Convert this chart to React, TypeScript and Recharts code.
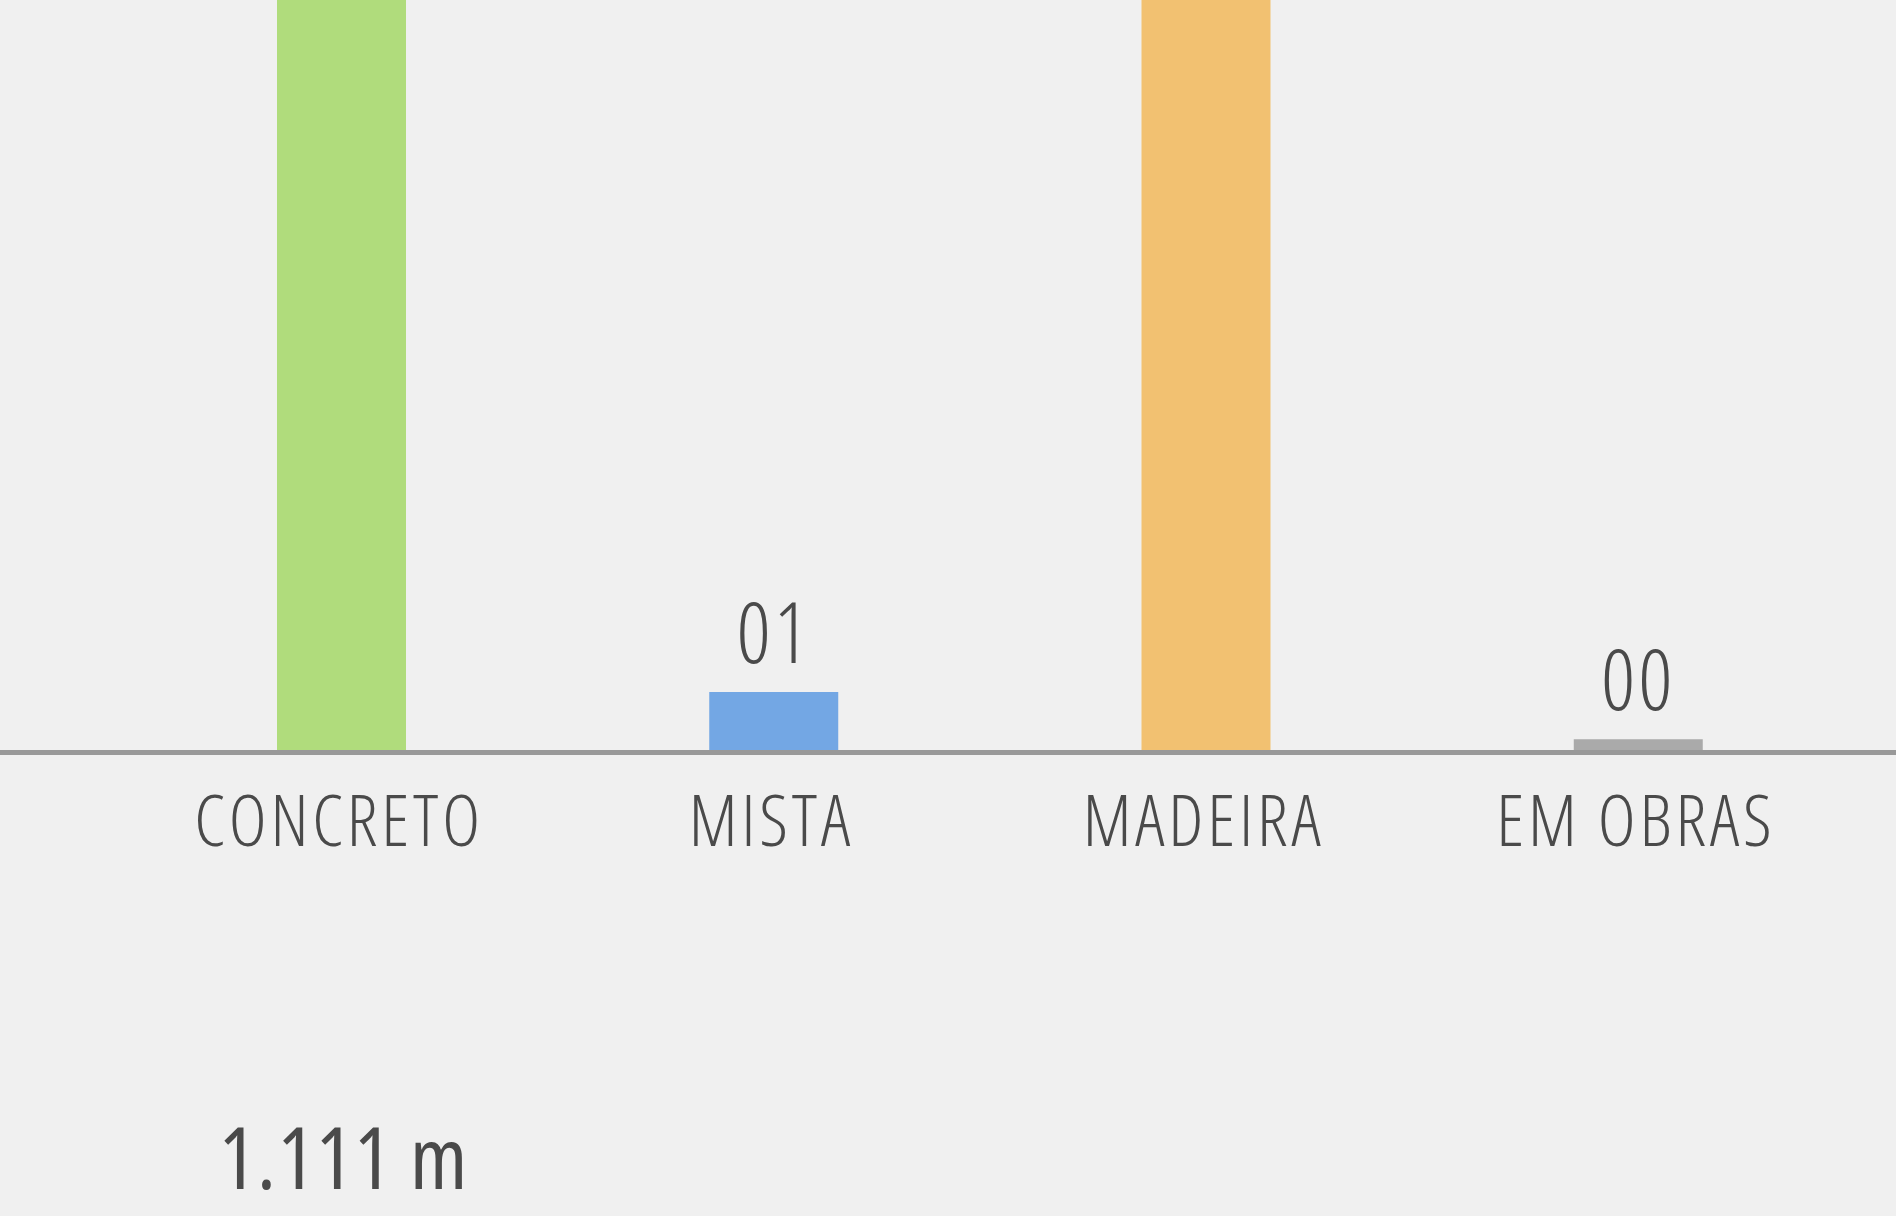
import React from "react";
import { BarChart, Bar, XAxis, YAxis, Cell, LabelList } from "recharts";

const categories = ["CONCRETO", "MISTA", "MADEIRA", "EM OBRAS"];
const values = [15, 1, 14, 0.25];
const valueLabels = ["", "01", "", "00"];
const subLabels = ["1.111 m", "", "", ""];
const colors = ["#b0dc7c", "#73a7e4", "#f2c171", "#aaaaaa"];

const data = categories.map((c, i) => ({ name: c, value: values[i], label: valueLabels[i], sub: subLabels[i] }));

const condensed = "'Open Sans', 'Liberation Sans Narrow', 'DejaVu Sans Condensed', sans-serif";
const TEXT = "#4a4a4a";

const Tick = (props: any) => {
  const { x, y, payload, index } = props;
  const sub = subLabels[index];
  return (
    <g>
      <text x={x - 2} y={y + 89} textAnchor="middle" fill={TEXT} fontFamily={condensed} fontSize={72} fontWeight={300} letterSpacing={3.8} style={{ fontStretch: "75%" }}>
        {payload.value}
      </text>
      {sub ? (
        <text x={x + 3} y={y + 432} textAnchor="middle" fill={TEXT} fontFamily="'Open Sans', sans-serif" fontSize={85} fontWeight={400} letterSpacing={2} style={{ fontStretch: "87.5%" }}>
          {sub}
        </text>
      ) : null}
    </g>
  );
};

const ValueLabel = (props: any) => {
  const { x, y, width, index } = props;
  const t = valueLabels[index];
  if (!t) return null;
  return (
    <text x={x + width / 2} y={y - 29} textAnchor="middle" fill={TEXT} fontFamily={condensed} fontSize={84} fontWeight={300} letterSpacing={3} style={{ fontStretch: "75%" }}>
      {t}
    </text>
  );
};

export default function App() {
  return (
    <div style={{ position: "absolute", left: 0, top: 0, width: 1896, height: 1216, background: "#f0f0f0" }}>
      <BarChart width={1896} height={1216} data={data} margin={{ top: 0, right: 0, bottom: 0, left: 0 }}>
        <YAxis hide width={0} domain={[0, 11.98]} allowDataOverflow type="number" />
        <Bar dataKey="value" barSize={129} isAnimationActive={false}>
          {data.map((d, i) => (
            <Cell key={d.name} fill={colors[i]} />
          ))}
          <LabelList dataKey="label" content={<ValueLabel />} />
        </Bar>
        <XAxis
          dataKey="name"
          height={461}
          padding={{ left: 125, right: 42 }}
          axisLine={{ stroke: "#999999", strokeWidth: 5, transform: "translate(0,-2.5)" }}
          tickLine={false}
          tickSize={0}
          tick={<Tick />}
          interval={0}
        />
      </BarChart>
    </div>
  );
}
